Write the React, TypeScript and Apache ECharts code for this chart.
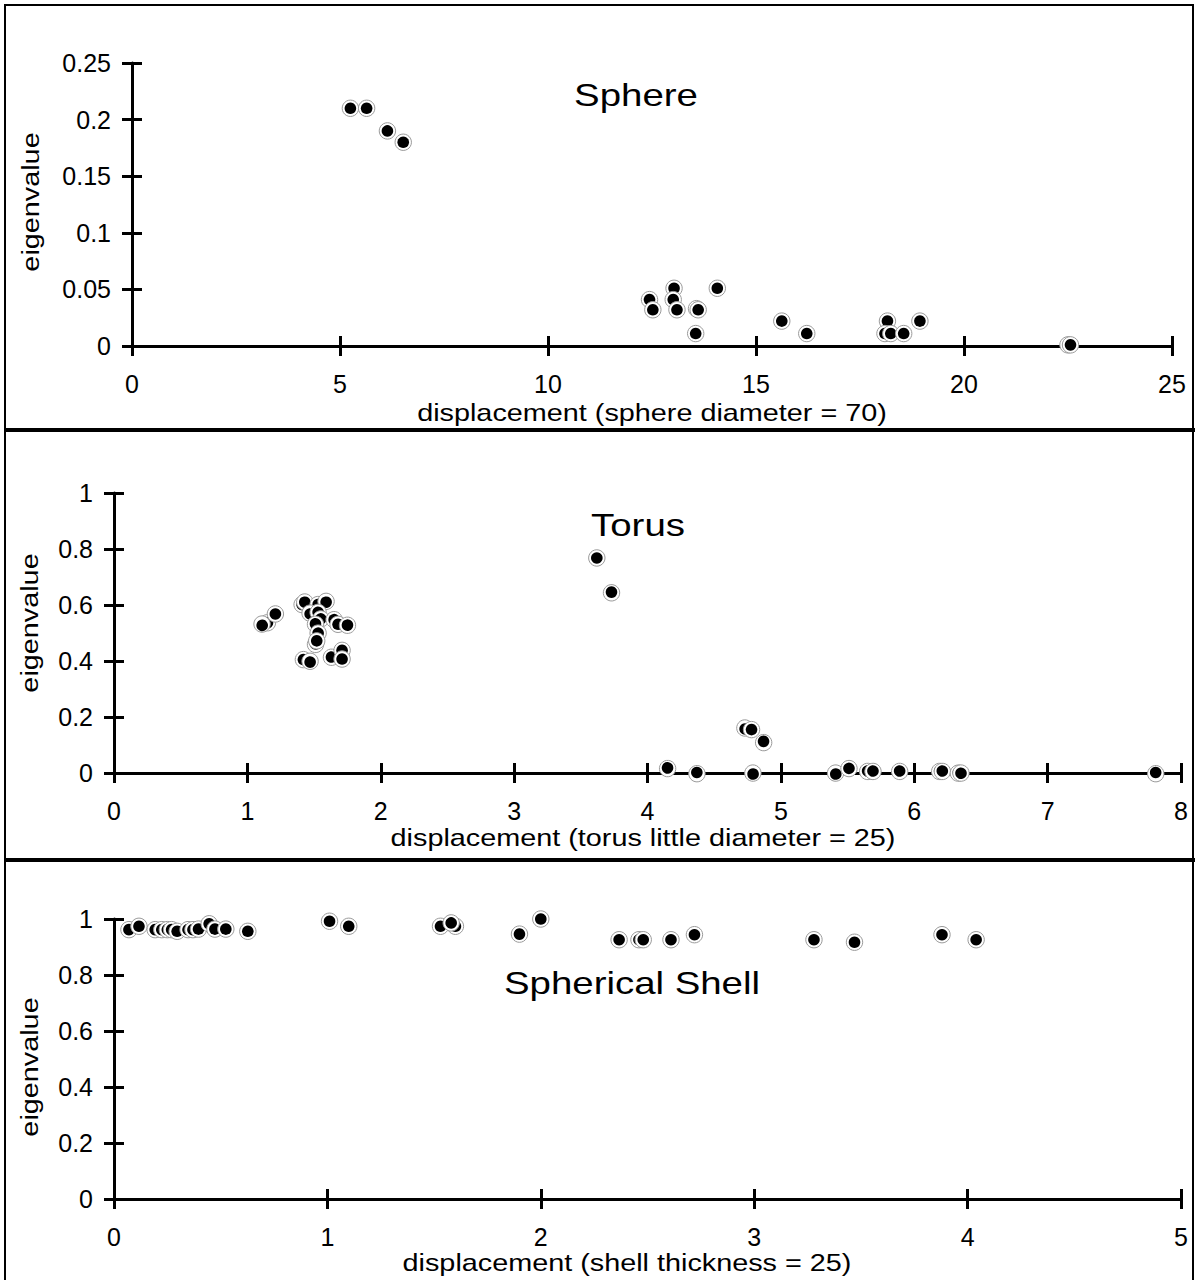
import React, { useEffect, useRef } from "react";
import * as echarts from "echarts";

// ---------- data ----------
const sphereX = [5.25, 5.64, 6.14, 6.52, 12.44, 12.52, 13.03, 13.01, 13.1, 13.57, 13.61, 13.55, 14.07, 15.62, 16.22, 18.16, 18.1, 18.24, 18.55, 18.94, 22.5, 22.56];
const sphereY = [0.21, 0.21, 0.19, 0.18, 0.041, 0.032, 0.051, 0.041, 0.032, 0.033, 0.032, 0.011, 0.051, 0.022, 0.011, 0.022, 0.011, 0.011, 0.011, 0.022, 0.001, 0.001];

const torusX = [1.15, 1.11, 1.21, 1.41, 1.43, 1.53, 1.59, 1.47, 1.53, 1.55, 1.51, 1.65, 1.68, 1.75, 1.53, 1.51, 1.52, 1.42, 1.47, 1.63, 1.71, 1.71, 3.62, 3.73, 4.73, 4.78, 4.87, 4.15, 4.37, 4.79, 5.41, 5.51, 5.65, 5.69, 5.89, 6.19, 6.21, 6.33, 6.35, 7.81];
const torusY = [0.54, 0.532, 0.568, 0.605, 0.613, 0.605, 0.613, 0.571, 0.577, 0.554, 0.536, 0.551, 0.531, 0.531, 0.503, 0.464, 0.472, 0.405, 0.399, 0.417, 0.438, 0.407, 0.768, 0.646, 0.163, 0.155, 0.113, 0.02, 0.002, 0.002, 0.002, 0.02, 0.01, 0.01, 0.01, 0.01, 0.01, 0.004, 0.002, 0.002];

const shellX = [0.07, 0.117, 0.193, 0.224, 0.25, 0.27, 0.296, 0.347, 0.37, 0.396, 0.446, 0.473, 0.524, 0.627, 1.01, 1.1, 1.53, 1.6, 1.58, 1.9, 2.0, 2.367, 2.46, 2.48, 2.61, 2.72, 3.28, 3.47, 3.88, 4.04];
const shellY = [0.962, 0.974, 0.962, 0.962, 0.962, 0.962, 0.956, 0.962, 0.962, 0.964, 0.983, 0.964, 0.964, 0.956, 0.992, 0.974, 0.974, 0.974, 0.986, 0.946, 1.0, 0.926, 0.926, 0.926, 0.926, 0.944, 0.926, 0.917, 0.944, 0.926];

const panelTitles = ["Sphere", "Torus", "Spherical Shell"];
const xAxisNames = [
  "displacement (sphere diameter = 70)",
  "displacement (torus little diameter = 25)",
  "displacement (shell thickness = 25)",
];
const yAxisName = "eigenvalue";
const xRanges = [
  { min: 0, max: 25, interval: 5 },
  { min: 0, max: 8, interval: 1 },
  { min: 0, max: 5, interval: 1 },
];
const yRanges = [
  { min: 0, max: 0.25, interval: 0.05 },
  { min: 0, max: 1, interval: 0.2 },
  { min: 0, max: 1, interval: 0.2 },
];

// ---------- layout ----------
const FONT = '"Liberation Sans", Arial, Helvetica, sans-serif';
const STRETCH = 1.2;
const grids = [
  { left: 132, top: 63, width: 1040, height: 283 },
  { left: 114, top: 493, width: 1067, height: 280 },
  { left: 114, top: 919, width: 1067, height: 280 },
];
const titlePos = [
  [636, 95],
  [638, 525],
  [632, 983],
];
const xNamePos = [
  [652, 413],
  [643, 838],
  [627, 1263],
];
const yNamePos = [
  [31, 202],
  [30, 623],
  [30, 1067],
];

function zip(xs: number[], ys: number[]) {
  return xs.map((x, i) => [x, ys[i]]);
}

const App = () => {
  const ref = useRef<HTMLDivElement>(null);
  useEffect(() => {
    if (!ref.current) return;
    const chart = echarts.init(ref.current, null, { renderer: "svg" });
    const datasets = [zip(sphereX, sphereY), zip(torusX, torusY), zip(shellX, shellY)];

    const gridOpt: any[] = [];
    const xAxes: any[] = [];
    const yAxes: any[] = [];
    const series: any[] = [];
    const lineStyle = { color: "#000", width: 3 };

    for (let i = 0; i < 3; i++) {
      const g = grids[i];
      gridOpt.push({ ...g, containLabel: false });
      gridOpt.push({ ...g, containLabel: false });
      xAxes.push({
        gridIndex: 2 * i,
        type: "value",
        ...xRanges[i],
        axisLine: { show: true, onZero: false, lineStyle },
        axisTick: { show: true, length: 10, lineStyle },
        axisLabel: { color: "#000", fontSize: 25, fontFamily: FONT, margin: 25 },
        splitLine: { show: false },
      });
      yAxes.push({
        gridIndex: 2 * i,
        type: "value",
        ...yRanges[i],
        axisLine: { show: true, onZero: false, lineStyle },
        axisTick: { show: true, length: 10, lineStyle },
        axisLabel: { color: "#000", fontSize: 25, fontFamily: FONT, margin: 21 },
        splitLine: { show: false },
      });
      xAxes.push({
        gridIndex: 2 * i + 1,
        type: "value",
        ...xRanges[i],
        axisLine: { show: false },
        axisTick: { show: true, inside: true, length: 10, lineStyle },
        axisLabel: { show: false },
        splitLine: { show: false },
      });
      yAxes.push({
        gridIndex: 2 * i + 1,
        type: "value",
        ...yRanges[i],
        axisLine: { show: false },
        axisTick: { show: true, inside: true, length: 10, lineStyle },
        axisLabel: { show: false },
        splitLine: { show: false },
      });
      series.push({
        type: "custom",
        coordinateSystem: "cartesian2d",
        xAxisIndex: 2 * i,
        yAxisIndex: 2 * i,
        data: datasets[i],
        clip: false,
        z: 10,
        renderItem: (params: any, api: any) => {
          const p = api.coord([api.value(0), api.value(1)]);
          return {
            type: "group",
            children: [
              {
                type: "circle",
                shape: { cx: p[0], cy: p[1], r: 8.2 },
                style: { fill: "#fff", stroke: "#9a9a9a", lineWidth: 1 },
              },
              {
                type: "circle",
                shape: { cx: p[0], cy: p[1], r: 5.8 },
                style: { fill: "#000" },
              },
            ],
          };
        },
      });
    }

    const graphic: any[] = [
      {
        type: "rect",
        shape: { x: 5, y: 5, width: 1188, height: 1290 },
        style: { fill: "none", stroke: "#000", lineWidth: 2 },
        silent: true,
      },
      {
        type: "line",
        shape: { x1: 4, y1: 430, x2: 1195, y2: 430 },
        style: { stroke: "#000", lineWidth: 4 },
      },
      {
        type: "line",
        shape: { x1: 4, y1: 860, x2: 1195, y2: 860 },
        style: { stroke: "#000", lineWidth: 4 },
      },
    ];
    for (let i = 0; i < 3; i++) {
      graphic.push({
        type: "text",
        x: titlePos[i][0],
        y: titlePos[i][1],
        scaleX: STRETCH,
        style: {
          text: panelTitles[i],
          fill: "#000",
          font: `32px ${FONT}`,
          textAlign: "center",
          textVerticalAlign: "middle",
        },
      });
      graphic.push({
        type: "text",
        x: xNamePos[i][0],
        y: xNamePos[i][1],
        scaleX: STRETCH,
        style: {
          text: xAxisNames[i],
          fill: "#000",
          font: `24px ${FONT}`,
          textAlign: "center",
          textVerticalAlign: "middle",
        },
      });
      graphic.push({
        type: "text",
        x: yNamePos[i][0],
        y: yNamePos[i][1],
        rotation: Math.PI / 2,
        scaleX: STRETCH,
        style: {
          text: yAxisName,
          fill: "#000",
          font: `24px ${FONT}`,
          textAlign: "center",
          textVerticalAlign: "middle",
        },
      });
    }

    chart.setOption({
      animation: false,
      backgroundColor: "#fff",
      grid: gridOpt,
      xAxis: xAxes,
      yAxis: yAxes,
      series,
      graphic,
    });
    return () => chart.dispose();
  }, []);
  return (
    <div
      ref={ref}
      style={{ position: "absolute", left: 0, top: 0, width: 1195, height: 1280 }}
    />
  );
};

export default App;
